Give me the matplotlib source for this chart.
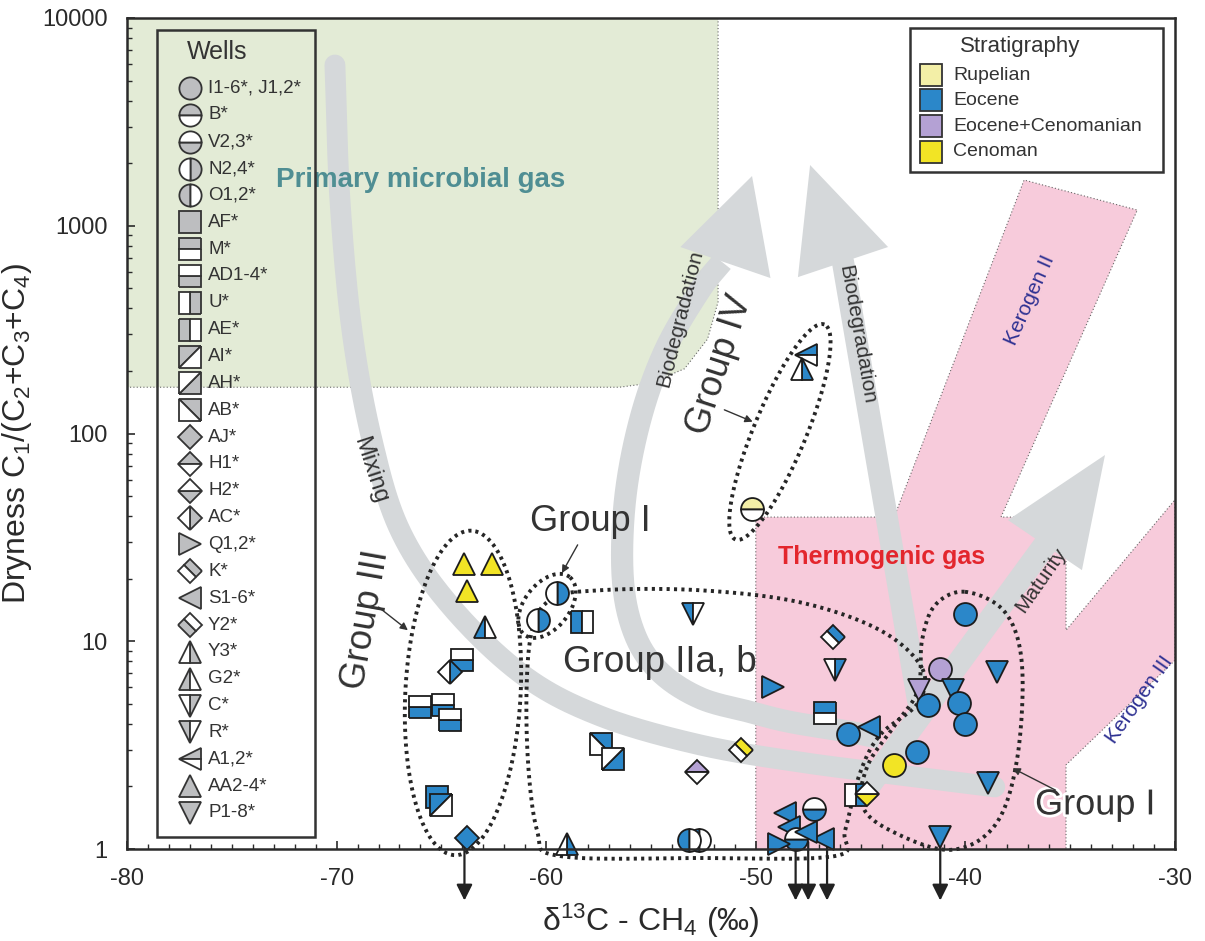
import numpy as np
import matplotlib
matplotlib.use("Agg")
import matplotlib.pyplot as plt
from matplotlib.markers import MarkerStyle
from matplotlib.transforms import Affine2D
from matplotlib.patches import Polygon, Rectangle
from matplotlib.ticker import LogLocator, NullFormatter, MultipleLocator
import matplotlib.patheffects as pe

plt.rcParams["font.family"] = ["Liberation Sans", "DejaVu Sans"]
plt.rcParams["mathtext.default"] = "regular"
plt.rcParams["axes.unicode_minus"] = False

# ---------------------------------------------------------------- data
well_code = ["AA", "AA", "AA", "G2", "AD", "AC", "AD", "AD", "AD", "AF", "AI", "AJ",
             "N", "N", "AE", "R", "Q", "AB", "AH", "H1", "K", "O", "O", "Y3",
             "K", "C", "M", "IJ", "S", "IJ", "P", "IJ", "P", "IJ", "IJ", "IJ", "P",
             "IJ", "IJ", "P", "U", "H2", "P",
             "S", "S", "V", "V", "Q", "S", "S",
             "B", "A1", "Y3"]
d13c = [-63.9, -62.6, -63.8, -62.9, -64.0, -64.6, -66.0, -64.9, -64.6, -65.2, -65.0, -63.8,
        -59.5, -60.4, -58.3, -53.0, -49.2, -57.4, -56.8, -52.8, -50.7, -52.7, -53.2, -59.0,
        -46.3, -46.2, -46.7, -45.6, -44.6, -41.2, -42.2, -41.8, -40.6, -40.3, -40.0, -40.0, -38.5,
        -42.3, -43.4, -38.9, -45.2, -44.7, -41.2,
        -48.6, -48.4, -47.2, -48.1, -48.9, -46.8, -47.6,
        -50.2, -47.6, -47.8]
dryness = [23.5, 23.5, 17.4, 11.7, 8.1, 7.15, 4.84, 4.95, 4.19, 1.78, 1.63, 1.13,
           17.0, 12.7, 12.4, 13.6, 6.05, 3.21, 2.72, 2.35, 3.0, 1.1, 1.1, 1.06,
           10.5, 7.3, 4.53, 3.59, 3.88, 7.39, 5.85, 4.95, 5.85, 5.06, 4.01, 13.5, 7.15,
           2.94, 2.54, 2.08, 1.82, 1.84, 1.14,
           1.49, 1.28, 1.56, 1.12, 1.06, 1.12, 1.21,
           43.2, 240, 205]
stratigraphy = ["Cen", "Cen", "Cen", "Eoc", "Eoc", "Eoc", "Eoc", "Eoc", "Eoc", "Eoc", "Eoc", "Eoc",
                "Eoc", "Eoc", "Eoc", "Eoc", "Eoc", "Eoc", "Eoc", "EoCen", "Cen", "Eoc", "Eoc", "Eoc",
                "Eoc", "Eoc", "Eoc", "Eoc", "Eoc", "EoCen", "EoCen", "Eoc", "Eoc", "Eoc", "Eoc", "Eoc", "Eoc",
                "Eoc", "Cen", "Eoc", "Eoc", "Cen", "Eoc",
                "Eoc", "Eoc", "Eoc", "Eoc", "Eoc", "Eoc", "Eoc",
                "Rup", "Eoc", "Eoc"]
# samples whose dryness lies below the plotted range
below_range_d13c = [-63.9, -48.1, -47.5, -46.6, -41.2]

strat_keys = ["Rup", "Eoc", "EoCen", "Cen"]
strat_labels = ["Rupelian", "Eocene", "Eocene+Cenomanian", "Cenoman"]
strat_colors = ["#f3efa7", "#2b87c9", "#b4a1d4", "#f2e425"]

legend_codes = ["IJ", "B", "V", "N", "O", "AF", "M", "AD", "U", "AE", "AI", "AH", "AB", "AJ",
                "H1", "H2", "AC", "Q", "K", "S", "Y2", "Y3", "G2", "C", "R", "A1", "AA", "P"]
legend_labels = ["I1-6*, J1,2*", "B*", "V2,3*", "N2,4*", "O1,2*", "AF*", "M*", "AD1-4*", "U*",
                 "AE*", "AI*", "AH*", "AB*", "AJ*", "H1*", "H2*", "AC*", "Q1,2*", "K*", "S1-6*",
                 "Y2*", "Y3*", "G2*", "C*", "R*", "A1,2*", "AA2-4*", "P1-8*"]

x_ticks = [-80, -70, -60, -50, -40, -30]
y_ticks = [1, 10, 100, 1000, 10000]
y_tick_labels = ["1", "10", "100", "1000", "10000"]

# ---------------------------------------------------------------- marker shapes
# code -> (base marker, coloured half, extra rotation, size)
SHAPES = {
    "IJ": ("o", "full", 0, 16.5), "B": ("o", "top", 0, 16.5), "V": ("o", "bottom", 0, 16.5),
    "N": ("o", "right", 0, 16.5), "O": ("o", "left", 0, 16.5),
    "AF": ("s", "full", 0, 16), "M": ("s", "top", 0, 16), "AD": ("s", "bottom", 0, 16),
    "U": ("s", "right", 0, 16), "AE": ("s", "left", 0, 16),
    "AI": ("D", "left", -45, 16), "AH": ("D", "right", -45, 16), "AB": ("D", "right", 45, 16),
    "AJ": ("D", "full", 0, 12.5), "H1": ("D", "top", 0, 12.5), "H2": ("D", "bottom", 0, 12.5),
    "AC": ("D", "right", 0, 12.5),
    "Q": (">", "full", 0, 16), "K": ("s", "top", -45, 12.5), "S": ("<", "full", 0, 16),
    "Y2": ("s", "bottom", -45, 12.5), "Y3": ("^", "right", 0, 16), "G2": ("^", "left", 0, 16),
    "C": ("v", "right", 0, 16), "R": ("v", "left", 0, 16), "A1": ("<", "top", 0, 16),
    "AA": ("^", "full", 0, 16), "P": ("v", "full", 0, 16),
}
EDGE = "#1c1c1c"
LEGEND_GREY = "#bdbec0"


def make_marker(code):
    base, fill, rot, _ = SHAPES[code]
    tr = Affine2D().rotate_deg(rot) if rot else None
    return MarkerStyle(base, fillstyle=fill, transform=tr)


# ---------------------------------------------------------------- figure
fig = plt.figure(figsize=(12.05, 9.41), dpi=100)
ax = fig.add_axes([127 / 1205, 92 / 941, 1048 / 1205, 831 / 941])
ax.set_xlim(-80, -30)
ax.set_yscale("log")
ax.set_ylim(1, 10000)

pos = ax.get_position()
W = fig.get_figwidth() * fig.dpi * pos.width
H = fig.get_figheight() * fig.dpi * pos.height
K = (H / 4.0) / (W / 50.0)   # pixels per decade over pixels per permil


def catmull_rom(P, closed, n=24):
    P = np.asarray(P, float)
    if closed:
        pts = np.vstack([P[-1], P, P[0], P[1]])
    else:
        pts = np.vstack([2 * P[0] - P[1], P, 2 * P[-1] - P[-2]])
    t = np.linspace(0, 1, n, endpoint=False)[:, None]
    segs = []
    for i in range(1, len(pts) - 2):
        p0, p1, p2, p3 = pts[i - 1], pts[i], pts[i + 1], pts[i + 2]
        segs.append(0.5 * (2 * p1 + (p2 - p0) * t + (2 * p0 - 5 * p1 + 4 * p2 - p3) * t ** 2
                           + (3 * p1 - p0 - 3 * p2 + p3) * t ** 3))
    segs.append(pts[-2][None, :])
    return np.vstack(segs)


def smooth(xs, ys, closed=False):
    P = np.column_stack([xs, np.log10(ys) * K])
    c = catmull_rom(P, closed)
    return c[:, 0], 10 ** (c[:, 1] / K)


def ellipse(cx, cy, a, b, angle):
    t = np.linspace(0, 2 * np.pi, 240)
    th = np.radians(angle)
    v0 = np.log10(cy) * K
    u = cx + a * np.cos(t) * np.cos(th) - b * np.sin(t) * np.sin(th)
    v = v0 + a * np.cos(t) * np.sin(th) + b * np.sin(t) * np.cos(th)
    return u, 10 ** (v / K)


# ---------------------------------------------------------------- genetic fields
microbial_x = [-80, -51.8, -51.8, -52.3, -53.4, -55.0, -56.5, -80]
microbial_y = [10000, 10000, 430, 285, 205, 175, 167, 167]
ax.add_patch(Polygon(np.column_stack([microbial_x, microbial_y]), closed=True,
                     fc="#e3ebd6", ec="none", zorder=0.5))
ax.plot(microbial_x[1:], microbial_y[1:], ls=(0, (1, 2)), lw=0.8, color="#666", zorder=0.6)

thermo_x = [-50, -50, -43.4, -37.2, -31.8, -38.3, -35.2, -35.2, -30, -30, -35.2, -35.2]
thermo_y = [1, 39.6, 39.6, 1660, 1190, 39.6, 39.6, 11.3, 48, 8.1, 2.54, 1]
ax.add_patch(Polygon(np.column_stack([thermo_x, thermo_y]), closed=True,
                     fc="#f7cbdb", ec="none", zorder=0.5))
ax.plot(thermo_x, thermo_y, ls=(0, (1, 2)), lw=0.8, color="#666", zorder=0.6)

# ---------------------------------------------------------------- process arrows
ARROW_GREY = "#d5d8da"
mix_x = [-70.08, -69.84, -69.27, -68.31, -66.98, -64.59, -61.11, -57.43, -52.66, -47.89, -43.12, -38.6]
mix_y = [5940, 1330, 315, 93, 34.3, 14.9, 6.88, 4.37, 3.17, 2.62, 2.27, 1.99]
sx, sy = smooth(mix_x, mix_y)
ax.plot(sx, sy, color=ARROW_GREY, lw=15, solid_capstyle="round", zorder=1)

bio1_x = [-44.07, -45.5, -48.37, -50.28, -52.66, -54.57, -55.76, -56.34, -56.24, -55.52, -54.33, -52.66, -51.61]
bio1_y = [3.42, 3.66, 4.09, 4.57, 5.33, 7.11, 10.7, 19.7, 47.9, 116, 252, 491, 669]
sx, sy = smooth(bio1_x, bio1_y)
ax.plot(sx, sy, color=ARROW_GREY, lw=16, solid_capstyle="butt", zorder=1)
ax.add_patch(Polygon([(-50.18, 1735), (-49.3, 560), (-53.6, 790)], closed=True,
                     fc=ARROW_GREY, ec="none", zorder=1))

ax.plot([-42.26, -45.84], [5.21, 669], color=ARROW_GREY, lw=16, solid_capstyle="round", zorder=1)
ax.add_patch(Polygon([(-47.41, 1960), (-43.69, 790), (-47.99, 566)], closed=True,
                     fc=ARROW_GREY, ec="none", zorder=1))

ax.plot([-44.93, -36.2], [1.82, 29.1], color=ARROW_GREY, lw=17, solid_capstyle="round", zorder=1)
ax.add_patch(Polygon([(-33.34, 78.8), (-34.44, 22.0), (-37.97, 38.3)], closed=True,
                     fc=ARROW_GREY, ec="none", zorder=1))

# ---------------------------------------------------------------- field and process labels
def label(x, y, s, size, rot=0, color="#333333", weight="normal", halo=False):
    t = ax.text(x, y, s, fontsize=size, rotation=rot, color=color, fontweight=weight,
                ha="center", va="center", rotation_mode="anchor", zorder=2)
    if halo:
        t.set_path_effects([pe.withStroke(linewidth=4, foreground="white")])
    return t


label(-66.0, 1660, "Primary microbial gas", 20, color="#4f8e93", weight="bold")
label(-44.0, 25.4, "Thermogenic gas", 18, color="#e3262d", weight="bold")
label(-68.4, 66.7, "Mixing", 17, rot=-72)
label(-53.6, 360, "Biodegradation", 15, rot=76)
label(-45.2, 298, "Biodegradation", 15, rot=-80)
label(-36.9, 439, "Kerogen II", 15, rot=66, color="#2e3192")
label(-31.7, 5.21, "Kerogen III", 15, rot=55, color="#2e3192")
label(-36.4, 19.7, "Maturity", 15, rot=55)

label(-68.6, 12.7, "Group III", 26, rot=80)
label(-57.9, 37.5, "Group I", 26)
label(-51.7, 214, "Group IV", 26, rot=72)
label(-54.6, 7.94, "Group IIa, b", 26.5)
label(-33.8, 1.63, "Group I", 26, halo=True)

# ---------------------------------------------------------------- group outlines
DOT = dict(color="#262626", lw=2.8, ls=(0, (0.8, 1.1)), zorder=3, clip_on=False)
ax.plot(*ellipse(-63.97, 5.64, 7.75, 2.75, 87), **DOT)          # Group III
ax.plot(*ellipse(-59.96, 14.8, 1.75, 1.07, 52), **DOT)          # Group I (upper)
ax.plot(*ellipse(-48.85, 101.7, 5.55, 1.25, 67.5), **DOT)       # Group IV

g2_x = [-42.07, -44.07, -47.89, -52.66, -57.43, -59.82, -60.77, -60.92, -60.44, -59.34,
        -52.66, -46.22, -45.74, -45.03, -44.07, -42.26]
g2_y = [7.43, 11.3, 15.4, 17.6, 17.6, 15.8, 10.1, 3.35, 1.23, 0.925,
        0.905, 0.925, 1.23, 2.32, 3.54, 5.05]
ax.plot(*smooth(g2_x, g2_y, closed=True), **DOT)                # Group IIa, b

g1_x = [-40.02, -38.11, -37.30, -37.54, -38.59, -40.74, -43.60, -44.93, -44.65, -43.36,
        -42.26, -42.07, -41.45]
g1_y = [17.3, 13.8, 7.69, 2.68, 1.30, 0.99, 1.23, 1.63, 2.54, 3.95, 5.83, 10.1, 14.9]
ax.plot(*smooth(g1_x, g1_y, closed=True), **DOT)                # Group I (right)

POINTER = dict(arrowstyle="-|>", lw=1.0, color="#333333", mutation_scale=11, shrinkA=0, shrinkB=0)
for (x0, y0), (x1, y1) in [((-68.0, 14.6), (-66.6, 11.3)),
                           ((-58.5, 29.1), (-59.25, 21.3)),
                           ((-51.5, 130), (-50.15, 114)),
                           ((-35.7, 1.92), (-37.75, 2.45))]:
    ax.annotate("", xy=(x1, y1), xytext=(x0, y0), arrowprops=POINTER, zorder=3)

# ---------------------------------------------------------------- samples
colour_of = dict(zip(strat_keys, strat_colors))
for code, x, y, s in zip(well_code, d13c, dryness, stratigraphy):
    ax.plot([x], [y], ls="none", marker=make_marker(code), ms=SHAPES[code][3],
            mfc=colour_of[s], mfcalt="white", mec=EDGE, mew=1.3, zorder=5, clip_on=False)

for x in below_range_d13c:
    ax.annotate("", xy=(x, -0.062), xycoords=ax.get_xaxis_transform(),
                xytext=(x, 1.08), textcoords="data",
                arrowprops=dict(arrowstyle="-|>", lw=1.6, color="#222222",
                                mutation_scale=24, shrinkA=0, shrinkB=0),
                annotation_clip=False, zorder=4)

# ---------------------------------------------------------------- wells key
ax.add_patch(Rectangle((0.0286, 0.0144), 0.1508, 0.9712, transform=ax.transAxes,
                       fill=False, ec="#333333", lw=1.8, zorder=6, clip_on=False))
ax.text(0.0859, 0.959, "Wells", transform=ax.transAxes, fontsize=18, ha="center",
        va="center", color="#333333", zorder=7)
for i, (code, lab) in enumerate(zip(legend_codes, legend_labels)):
    fy = (761 - i * 26.85) / 831
    ax.plot([0.0601], [fy], transform=ax.transAxes, ls="none", marker=make_marker(code),
            ms=SHAPES[code][3] * 0.97, mfc=LEGEND_GREY, mfcalt="white", mec="#333333",
            mew=1.3, zorder=7, clip_on=False)
    ax.text(0.0773, fy, lab, transform=ax.transAxes, fontsize=13.5, va="center",
            ha="left", color="#333333", zorder=7)

# ---------------------------------------------------------------- stratigraphy key
ax.add_patch(Rectangle((0.7471, 0.8147), 0.2414, 0.1733, transform=ax.transAxes,
                       fc="white", ec="#333333", lw=1.8, zorder=6))
ax.text(0.852, 0.9663, "Stratigraphy", transform=ax.transAxes, fontsize=16, ha="center",
        va="center", color="#333333", zorder=7)
for fy, lab, col in zip([0.9314, 0.9013, 0.8700, 0.8388], strat_labels, strat_colors):
    ax.plot([0.7672], [fy], transform=ax.transAxes, ls="none", marker="s", ms=15.5,
            mfc=col, mec="#333333", mew=1.3, zorder=7)
    ax.text(0.7882, fy, lab, transform=ax.transAxes, fontsize=14, va="center",
            ha="left", color="#333333", zorder=7)

# ---------------------------------------------------------------- axes cosmetics
ax.set_xticks(x_ticks)
ax.xaxis.set_minor_locator(MultipleLocator(1))
ax.set_yticks(y_ticks)
ax.set_yticklabels(y_tick_labels)
ax.yaxis.set_minor_locator(LogLocator(base=10, subs=np.arange(2, 10)))
ax.yaxis.set_minor_formatter(NullFormatter())
ax.tick_params(which="both", direction="in", top=False, right=False, colors="#2a2a2a")
ax.tick_params(which="major", length=6, width=1.2, labelsize=17)
ax.tick_params(axis="x", which="major", pad=14)
ax.tick_params(axis="y", which="major", pad=14)
ax.tick_params(which="minor", length=3.5, width=1.0)
for sp in ax.spines.values():
    sp.set_linewidth(1.8)
    sp.set_color("#2a2a2a")
    sp.set_zorder(8)

ax.set_xlabel("δ$^{13}$C - CH$_4$ (‰)", fontsize=23, color="#2a2a2a", labelpad=8)
ax.set_ylabel("Dryness C$_1$/(C$_2$+C$_3$+C$_4$)", fontsize=23, color="#2a2a2a", labelpad=6)

fig.savefig("out.png", dpi=100, facecolor="white")
